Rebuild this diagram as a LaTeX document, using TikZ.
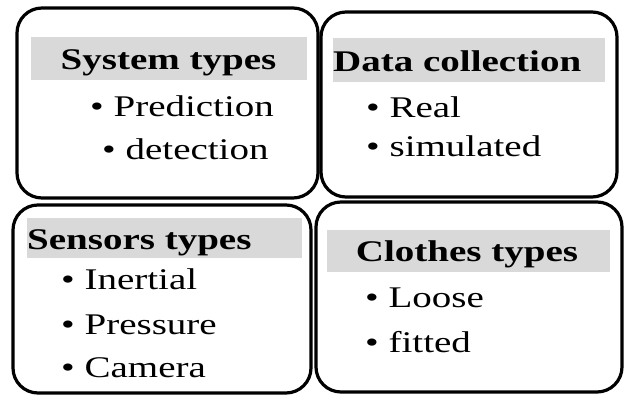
\documentclass[tikz,border=0pt]{standalone}
\usepackage{fontspec}
\usepackage{graphicx}
\setmainfont{Liberation Serif}
\definecolor{bargray}{HTML}{D9D9D9}
\newcommand{\wide}[1]{\scalebox{1.3}[1]{#1}}

\begin{document}
\begin{tikzpicture}[x=1pt, y=-1pt,
    card/.style={draw=black, line width=3.2pt, rounded corners=25pt, fill=white},
    bar/.style={fill=bargray, draw=none},
    heading/.style={inner sep=0pt, font=\fontsize{30}{36}\selectfont\bfseries},
    item/.style={inner sep=0pt, anchor=base west, font=\fontsize{30}{36}\selectfont}]
  \useasboundingbox (0,0) rectangle (625,395);

  % system types
  \node[card, minimum width=301pt, minimum height=190pt] (sysbox) at (167.5,103) {};
  \fill[bar] (31,37) rectangle (307,80);
  \node[heading, anchor=base] (systitle) at (168.5,70) {\wide{System types}};
  \node[item] (sysA) at (90,117) {\wide{\textbullet\ Prediction}};
  \node[item] (sysB) at (102,160) {\wide{\textbullet\ detection}};

  % data collection
  \node[card, minimum width=296pt, minimum height=185pt] (databox) at (469,104.5) {};
  \fill[bar] (333,38) rectangle (605,82);
  \node[heading, anchor=base west] (datatitle) at (333,72) {\wide{Data collection}};
  \node[item] (dataA) at (366,118) {\wide{\textbullet\ Real}};
  \node[item] (dataB) at (366,157) {\wide{\textbullet\ simulated}};

  % sensors types
  \node[card, minimum width=298pt, minimum height=188pt] (senbox) at (162,299) {};
  \fill[bar] (27,218) rectangle (302,258);
  \node[heading, anchor=base west] (sentitle) at (27,250) {\wide{Sensors types}};
  \node[item] (senA) at (61,290) {\wide{\textbullet\ Inertial}};
  \node[item] (senB) at (61,335) {\wide{\textbullet\ Pressure}};
  \node[item] (senC) at (61,378) {\wide{\textbullet\ Camera}};

  % clothes types
  \node[card, minimum width=306pt, minimum height=190pt] (clobox) at (469,297) {};
  \fill[bar] (327,230) rectangle (610,272);
  \node[heading, anchor=base] (clotitle) at (467,262) {\wide{Clothes types}};
  \node[item] (cloA) at (365,308) {\wide{\textbullet\ Loose}};
  \node[item] (cloB) at (365,353) {\wide{\textbullet\ fitted}};
\end{tikzpicture}
\end{document}
